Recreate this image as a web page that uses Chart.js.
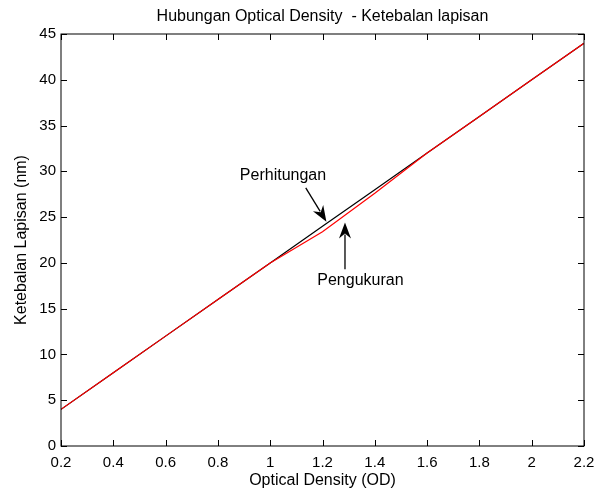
<!DOCTYPE html>
<html>
<head>
<meta charset="utf-8">
<script src="https://cdn.jsdelivr.net/npm/chart.js@4.4.1/dist/chart.umd.min.js"></script>
<style>
  html, body { margin: 0; padding: 0; background: #fff; }
  canvas { display: block; }
</style>
</head>
<body>
<canvas id="odChart" width="604" height="490"></canvas>
<script>
const odValues = [0.2, 0.4, 0.6, 0.8, 1.0, 1.2, 1.4, 1.6, 1.8, 2.0, 2.2];
const perhitungan = [4, 8, 12, 16, 20, 24, 28, 32, 36, 40, 44];
const pengukuran = [4, 8, 12, 16, 20, 23.4, 27.6, 32, 36, 40, 44];
const xTicks = [0.2, 0.4, 0.6, 0.8, 1, 1.2, 1.4, 1.6, 1.8, 2, 2.2];
const yTicks = [0, 5, 10, 15, 20, 25, 30, 35, 40, 45];

// annotation text + arrow (tail -> tip) in data units
const notes = [
  { text: "Perhitungan", at: [1.049, 29.5], tail: [1.136, 28.2], tip: [1.215, 24.5] },
  { text: "Pengukuran", at: [1.345, 18.1], tail: [1.286, 19.3], tip: [1.286, 24.4] },
];

const FONT = "Liberation Sans, Arial, Helvetica, sans-serif";

const toXY = (ys) => odValues.map((x, i) => ({ x, y: ys[i] }));

const framePlugin = {
  id: "frame",
  afterDatasetsDraw(chart) {
    const { ctx, chartArea: a, scales: { x, y } } = chart;
    ctx.save();
    ctx.strokeStyle = "#000";
    ctx.lineWidth = 1;
    ctx.strokeRect(a.left, a.top, a.right - a.left, a.bottom - a.top);

    // inward tick marks on all four sides
    const tl = 6;
    ctx.beginPath();
    xTicks.forEach((v) => {
      const px = Math.round(x.getPixelForValue(v)) + 0.5;
      ctx.moveTo(px, a.bottom); ctx.lineTo(px, a.bottom - tl);
      ctx.moveTo(px, a.top); ctx.lineTo(px, a.top + tl);
    });
    yTicks.forEach((v) => {
      const py = Math.round(y.getPixelForValue(v)) + 0.5;
      ctx.moveTo(a.left, py); ctx.lineTo(a.left + tl, py);
      ctx.moveTo(a.right, py); ctx.lineTo(a.right - tl, py);
    });
    ctx.stroke();

    // annotations
    ctx.font = "16px " + FONT;
    ctx.fillStyle = "#000";
    ctx.textAlign = "center";
    ctx.textBaseline = "middle";
    notes.forEach((n) => {
      ctx.fillText(n.text, x.getPixelForValue(n.at[0]), y.getPixelForValue(n.at[1]));
      const x0 = x.getPixelForValue(n.tail[0]), y0 = y.getPixelForValue(n.tail[1]);
      const x1 = x.getPixelForValue(n.tip[0]), y1 = y.getPixelForValue(n.tip[1]);
      const ang = Math.atan2(y1 - y0, x1 - x0);
      const len = 16, half = 6;
      const bx = x1 - len * Math.cos(ang), by = y1 - len * Math.sin(ang);
      ctx.lineWidth = 1.3;
      ctx.beginPath();
      ctx.moveTo(x0, y0);
      ctx.lineTo(bx + 4 * Math.cos(ang), by + 4 * Math.sin(ang));
      ctx.stroke();
      ctx.beginPath();
      ctx.moveTo(x1, y1);
      ctx.lineTo(bx - half * Math.sin(ang), by + half * Math.cos(ang));
      ctx.lineTo(bx + 5 * Math.cos(ang), by + 5 * Math.sin(ang));
      ctx.lineTo(bx + half * Math.sin(ang), by - half * Math.cos(ang));
      ctx.closePath();
      ctx.fill();
    });
    ctx.restore();
  },
};

new Chart(document.getElementById("odChart"), {
  type: "line",
  data: {
    datasets: [
      {
        label: "Perhitungan",
        data: toXY(perhitungan),
        borderColor: "#000000",
        borderWidth: 1.2,
        pointRadius: 0,
        tension: 0,
        order: 2,
      },
      {
        label: "Pengukuran",
        data: toXY(pengukuran),
        borderColor: "#ff0000",
        borderWidth: 1.2,
        pointRadius: 0,
        tension: 0,
        order: 1,
      },
    ],
  },
  options: {
    responsive: false,
    animation: false,
    layout: { padding: { left: 0, right: 20, top: 0, bottom: 0 } },
    plugins: {
      legend: { display: false },
      tooltip: { enabled: false },
      title: {
        display: true,
        fullSize: false,
        text: "Hubungan Optical Density  - Ketebalan lapisan",
        color: "#000",
        font: { family: FONT, size: 16, weight: "normal" },
        padding: { top: 7, bottom: 7.8 },
      },
    },
    scales: {
      x: {
        type: "linear",
        min: 0.2,
        max: 2.2,
        afterBuildTicks: (s) => { s.ticks = xTicks.map((v) => ({ value: v })); },
        afterFit: (s) => { s.height = 44; },
        grid: { display: false, drawTicks: false },
        border: { display: false },
        ticks: {
          color: "#000",
          font: { family: FONT, size: 15 },
          padding: 8,
          maxRotation: 0,
          autoSkip: false,
          callback: (v) => String(+Number(v).toFixed(1)),
        },
        title: {
          display: true,
          text: "Optical Density (OD)",
          color: "#000",
          font: { family: FONT, size: 16 },
          padding: { top: 0, bottom: 0 },
        },
      },
      y: {
        type: "linear",
        min: 0,
        max: 45,
        afterBuildTicks: (s) => { s.ticks = yTicks.map((v) => ({ value: v })); },
        afterFit: (s) => { s.width = 61; },
        grid: { display: false, drawTicks: false },
        border: { display: false },
        ticks: {
          color: "#000",
          font: { family: FONT, size: 15 },
          padding: 5,
          autoSkip: false,
        },
        title: {
          display: true,
          text: "Ketebalan Lapisan (nm)",
          color: "#000",
          font: { family: FONT, size: 16 },
          padding: { top: 12, bottom: 0 },
        },
      },
    },
  },
  plugins: [framePlugin],
});
</script>
</body>
</html>
